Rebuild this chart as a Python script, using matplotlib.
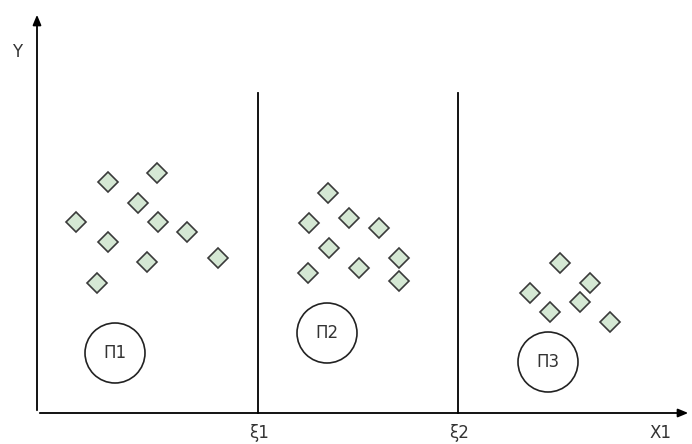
import matplotlib.pyplot as plt
from matplotlib.patches import Circle

# diamond points of the three classes (pixel-like plane coords, y grows downward)
g1_x = [108, 157, 138, 76, 158, 187, 108, 218, 147, 97]
g1_y = [182, 173, 203, 222, 222, 232, 242, 258, 262, 283]
g2_x = [328, 309, 349, 379, 329, 399, 308, 359, 399]
g2_y = [193, 223, 218, 228, 248, 258, 273, 268, 281]
g3_x = [560, 590, 530, 580, 550, 610]
g3_y = [263, 283, 293, 302, 312, 322]

# class labels and their circle centers
class_names = ['\u041f1', '\u041f2', '\u041f3']
class_cx = [115, 327, 548]
class_cy = [353, 333, 362]

# thresholds on X1
bound_x = [258, 458]
bound_names = ['\u03be1', '\u03be2']

W, H = 692, 444
fig = plt.figure(figsize=(W/100, H/100), dpi=100)
ax = fig.add_axes([0, 0, 1, 1])
ax.set_xlim(0, W)
ax.set_ylim(H, 0)
ax.axis('off')

ox, oy = 37, 413
text_col = '#333333'

# axes with arrows
ax.annotate('', xy=(691, oy), xytext=(ox, oy),
            arrowprops=dict(arrowstyle='-|>,head_length=0.6,head_width=0.25', color='black', lw=1.3))
ax.annotate('', xy=(ox, 12), xytext=(ox, oy),
            arrowprops=dict(arrowstyle='-|>,head_length=0.6,head_width=0.25', color='black', lw=1.3))
ax.text(17, 52, 'Y', fontsize=12, color=text_col, ha='center', va='center')
ax.text(660, 433, 'X1', fontsize=12, color=text_col, ha='center', va='center')

# threshold lines
for bx, name in zip(bound_x, bound_names):
    ax.plot([bx, bx], [93, oy], color='black', lw=1.3)
    ax.text(bx + 1, 433, name, fontsize=12, color=text_col, ha='center', va='center')

# points
for xs, ys in [(g1_x, g1_y), (g2_x, g2_y), (g3_x, g3_y)]:
    ax.plot(xs, ys, 'D', ms=10, mfc='#d5e8d4', mec='#3a3a3a', mew=1.2, ls='none')

# class circles
for name, cx, cy in zip(class_names, class_cx, class_cy):
    ax.add_patch(Circle((cx, cy), 30, fill=False, ec='#222222', lw=1.2))
    ax.text(cx, cy, name, fontsize=12, color=text_col, ha='center', va='center')

fig.savefig('out.png', dpi=100)
